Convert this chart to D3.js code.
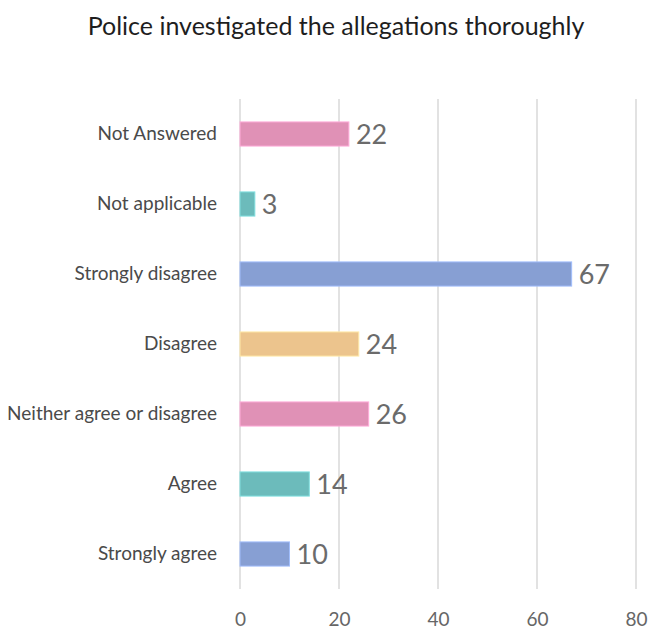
<!DOCTYPE html>
<html>
<head>
<meta charset="utf-8">
<script src="https://cdn.jsdelivr.net/npm/d3@7"></script>
<style>
  html, body { margin: 0; padding: 0; background: #fff; }
  svg { display: block; font-family: Lato, "Open Sans", sans-serif; }
</style>
</head>
<body>
<svg id="chart" width="650" height="631"></svg>
<script>
// Survey responses: "Police investigated the allegations thoroughly"
const categories = ["Not Answered", "Not applicable", "Strongly disagree", "Disagree",
                    "Neither agree or disagree", "Agree", "Strongly agree"];
const counts = [22, 3, 67, 24, 26, 14, 10];
const barColors = ["#e091b6", "#6cbbbb", "#879fd3", "#ecc48d", "#e091b6", "#6cbbbb", "#879fd3"];
const xTicks = [0, 20, 40, 60, 80];

const svg = d3.select("#chart");

const x = d3.scaleLinear().domain([0, 80]).range([240, 636]);
const y = d3.scaleBand().domain(categories).range([99, 589]).paddingInner(0.655).paddingOuter(0.3275);

// Title
svg.append("text")
  .attr("x", 336).attr("y", 35)
  .attr("text-anchor", "middle")
  .attr("font-size", 25)
  .attr("fill", "#1e1e1e")
  .text("Police investigated the allegations thoroughly");

// Vertical gridlines
svg.append("g")
  .selectAll("line")
  .data(xTicks)
  .join("line")
  .attr("x1", d => x(d)).attr("x2", d => x(d))
  .attr("y1", 99).attr("y2", 589)
  .attr("stroke", "#d9d9d9")
  .attr("stroke-width", 1.5);

// X axis tick labels
const xAxis = d3.axisBottom(x).tickValues(xTicks).tickSize(0).tickPadding(0);
const gx = svg.append("g").attr("transform", "translate(0,626)").call(xAxis);
gx.select(".domain").remove();
gx.selectAll("text")
  .attr("dy", 0)
  .attr("font-family", "Lato, 'Open Sans', sans-serif")
  .attr("font-size", 19)
  .attr("fill", "#666");

// Category labels
const yAxis = d3.axisLeft(y).tickSize(0).tickPadding(0);
const gy = svg.append("g").attr("transform", "translate(217,0)").call(yAxis);
gy.select(".domain").remove();
gy.selectAll("text")
  .attr("font-family", "Lato, 'Open Sans', sans-serif")
  .attr("font-size", 19)
  .attr("fill", "#4a4a4a");

// Bars
svg.append("g")
  .selectAll("rect")
  .data(categories)
  .join("rect")
  .attr("x", x(0))
  .attr("y", d => y(d))
  .attr("width", (d, i) => x(counts[i]) - x(0))
  .attr("height", y.bandwidth())
  .attr("fill", (d, i) => barColors[i])
  .attr("stroke", (d, i) => d3.color(barColors[i]).brighter(0.5))
  .attr("stroke-width", 1);

// Value labels
svg.append("g")
  .selectAll("text")
  .data(categories)
  .join("text")
  .attr("x", (d, i) => x(counts[i]) + 7)
  .attr("y", d => y(d) + y.bandwidth() / 2)
  .attr("dy", "0.36em")
  .attr("font-size", 27)
  .attr("fill", "#6b6b6b")
  .text((d, i) => counts[i]);
</script>
</body>
</html>
